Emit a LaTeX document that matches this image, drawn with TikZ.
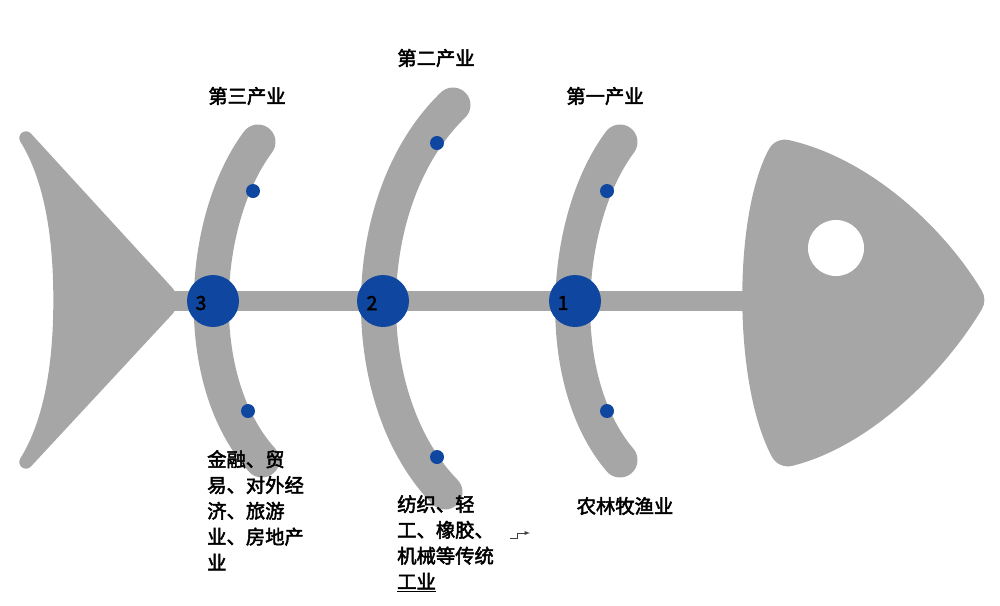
\documentclass[tikz,border=0pt]{standalone}
\usepackage{fontspec}
\newfontfamily\cjk[FakeBold=2.5]{Noto Sans CJK SC}
\definecolor{bonegray}{RGB}{166,166,166}
\definecolor{dotblue}{RGB}{15,71,160}
\tikzset{
  rib/.style={draw=bonegray,line width=1.05cm,line cap=round},
  joint/.style={circle,fill=dotblue,minimum size=1.56cm,inner sep=0pt},
  bead/.style={circle,fill=dotblue,minimum size=0.42cm,inner sep=0pt},
  tag/.style={font=\cjk\fontsize{16.5}{22}\selectfont,inner sep=0pt},
  note/.style={tag,align=left,anchor=north west}
}
\begin{document}
\begin{tikzpicture}[x=0.03cm,y=-0.03cm,>=latex]
\useasboundingbox (0,0) rectangle (1000,605);

% tail
\filldraw[bonegray,line width=0.4cm,line join=round] (26,138) -- (168,293) -- (168,309) -- (26,462)
  .. controls (52,420) and (60,360) .. (60,300) .. controls (60,240) and (52,180) .. cycle;
% spine
\draw[bonegray,line width=0.6cm] (165,301) -- (760,301);
% head
\filldraw[bonegray,line width=1.1cm,line join=round] (785,158) .. controls (860,175) and (930,240) .. (966,300)
  .. controls (930,360) and (860,430) .. (788,448) .. controls (752,380) and (752,220) .. cycle;
\fill[white] (836,248) circle (28);

% ribs
\draw[rib] (258,142) .. controls (200,220) and (190,380) .. (262,460);
\draw[rib] (453,105) .. controls (355,200) and (355,400) .. (445,492);
\draw[rib] (620,142) .. controls (562,220) and (552,380) .. (620,460);

% joints
\node[joint] (j3) at (213,301) {};
\node[joint] (j2) at (383,301) {};
\node[joint] (j1) at (575,301) {};
\node[tag] (n3) at (201,303) {3};
\node[tag] (n2) at (372,303) {2};
\node[tag] (n1) at (563,303) {1};

% beads
\node[bead] (b3a) at (253,191) {};
\node[bead] (b3b) at (248,411) {};
\node[bead] (b2a) at (437,143) {};
\node[bead] (b2b) at (437,457) {};
\node[bead] (b1a) at (607,191) {};
\node[bead] (b1b) at (607,411) {};

% labels
\node[tag] (t3) at (247,96) {第三产业};
\node[tag] (t2) at (436,58) {第二产业};
\node[tag] (t1) at (605,96) {第一产业};
\node[note] (d3) at (207,450) {金融、贸\\易、对外经\\济、旅游\\业、房地产\\业};
\node[note] (d2) at (397,495) {纺织、轻\\工、橡胶、\\机械等传统\\\underline{工业}};
\node[tag] (d1) at (625,506) {农林牧渔业};

% small arrow
\coordinate (s0) at (510,538);
\coordinate (s1) at (530,533);
\draw[->,semithick,black!75] (s0) -- ++(7,0) |- (s1);
\end{tikzpicture}
\end{document}
